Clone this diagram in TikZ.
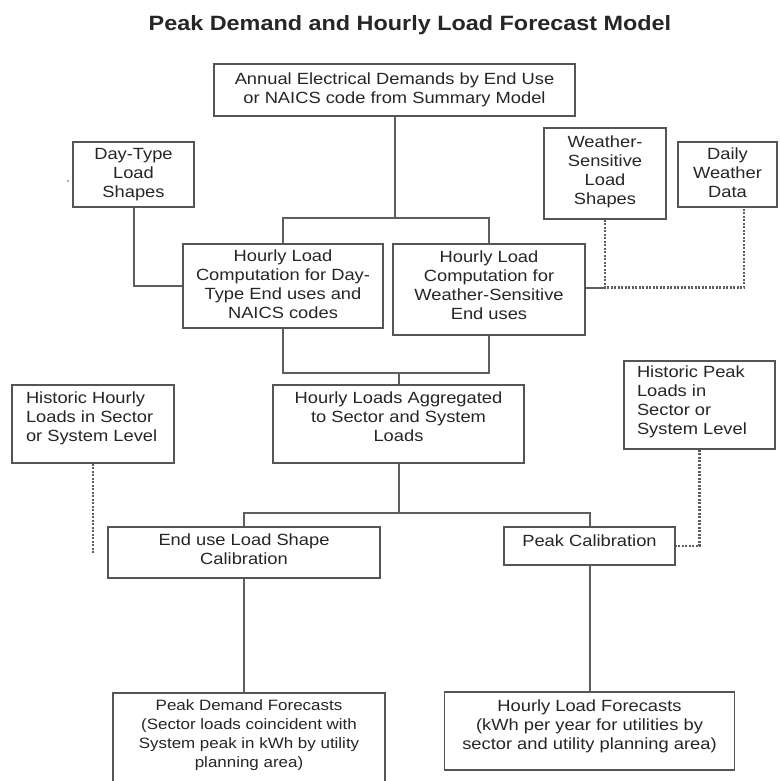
\documentclass[tikz,border=0pt]{standalone}
\usepackage{fontspec}
\setmainfont{Liberation Sans}[FakeStretch=1.13]
\usetikzlibrary{calc}

\definecolor{frame}{HTML}{555555}
\definecolor{wire}{HTML}{5E5E5E}
\definecolor{ink}{HTML}{262626}

% box text: alignment, vertical lift, lines
\newcommand\boxtext[3]{\raisebox{#2}[\height][\depth]{\begin{tabular}{@{}#1@{}}#3\end{tabular}}}

\tikzset{
  every node/.style={font=\fontsize{16.2}{19}\selectfont, text=ink},
  box/.style={draw=frame, line width=1.5pt, rectangle, inner sep=0pt, fill=white},
  link/.style={draw=wire, line width=2pt},
  feed/.style={draw=wire, line width=2.6pt, dash pattern=on 2.2pt off 1.3pt},
}

\begin{document}
\begin{tikzpicture}[x=1pt,y=-1pt]
\useasboundingbox (0,0) rectangle (779,781);
\clip (0,0) rectangle (779,781);
\fill[white] (0,0) rectangle (779,781);

\node[anchor=base, font=\fontsize{20.7}{24}\bfseries\selectfont] (title) at (410,31)
  {Peak Demand and Hourly Load Forecast Model};

% sources and computation boxes
\node[box, minimum width=361pt, minimum height=52pt] (top) at (394.5,90)
  {\boxtext{c}{0pt}{Annual Electrical Demands by End Use\\or NAICS code from Summary Model}};
\node[box, minimum width=121pt, minimum height=65pt] (dt) at (133.5,174.5)
  {\boxtext{c}{0pt}{Day-Type\\Load\\Shapes}};
\node[box, minimum width=122pt, minimum height=91pt] (ws) at (605,173.5)
  {\boxtext{c}{1.5pt}{Weather-\\Sensitive\\Load\\Shapes}};
\node[box, minimum width=99pt, minimum height=65pt] (dw) at (727.5,174.5)
  {\boxtext{c}{0pt}{Daily\\Weather\\Data}};
\node[box, minimum width=200pt, minimum height=84pt] (dtc) at (283,286)
  {\boxtext{c}{0pt}{Hourly Load\\Computation for Day-\\Type End uses and\\NAICS codes}};
\node[box, minimum width=192pt, minimum height=91pt] (wsc) at (489,289.5)
  {\boxtext{c}{2.5pt}{Hourly Load\\Computation for\\Weather-Sensitive\\End uses}};
\node[box, minimum width=251pt, minimum height=78pt] (agg) at (398.5,424)
  {\boxtext{c}{5pt}{Hourly Loads Aggregated\\to Sector and System\\Loads}};
\node[box, minimum width=162pt, minimum height=78pt] (hh) at (93,424)
  {\makebox[134pt][l]{\boxtext{l}{5pt}{Historic Hourly\\Loads in Sector\\or System Level}}};
\node[box, minimum width=151pt, minimum height=88pt] (hp) at (699.5,405)
  {\makebox[125pt][l]{\boxtext{l}{3pt}{Historic Peak\\Loads in\\Sector or\\System Level}}};
\node[box, minimum width=272pt, minimum height=51pt] (eu) at (244,552.5)
  {\boxtext{c}{1.5pt}{End use Load Shape\\Calibration}};
\node[box, minimum width=171pt, minimum height=38pt] (pc) at (589.5,546)
  {\boxtext{c}{3pt}{Peak Calibration}};
\node[box, minimum width=272pt, minimum height=100pt, font=\fontsize{15}{19}\selectfont] (pdf) at (249,743)
  {\boxtext{c}{7.5pt}{Peak Demand Forecasts\\(Sector loads coincident with\\System peak in kWh by utility\\planning area)}};
\node[box, minimum width=290pt, minimum height=78pt] (hlf) at (589.5,731)
  {\boxtext{c}{4pt}{Hourly Load Forecasts\\(kWh per year for utilities by\\sector and utility planning area)}};

% junction points
\coordinate (topsplit) at (394.5,218);
\coordinate (wstap) at (605,287.5);
\coordinate (dwtap) at (744,207);
\coordinate (midmerge) at (398.5,373);
\coordinate (lowsplit) at (398.5,513);

% solid connectors
\draw[link] (top.south) -- (topsplit);
\draw[link] (dtc.north) |- (topsplit) -| (wsc.north);
\draw[link] (dt.south) |- (dtc.west);
\draw[link] (wstap -| wsc.east) -- (wstap);
\draw[link] (dtc.south) |- (midmerge) -| (wsc.south);
\draw[link] (midmerge) -- (agg.north);
\draw[link] (agg.south) -- (lowsplit);
\draw[link] (eu.north) |- (lowsplit) -| (pc.north);
\draw[link] (eu.south) -- (eu.south |- pdf.north);
\draw[link] (pc.south) -- (hlf.north);

% dashed data feeds
\draw[feed] (ws.south) -- (wstap) -| (dwtap);
\draw[feed] (hh.south) -- (hh.south |- eu.west);
\draw[feed] (hp.south) |- (pc.east);

% stray mark beside the day-type box
\fill[wire] (68,181) circle (0.9pt);
\end{tikzpicture}
\end{document}
